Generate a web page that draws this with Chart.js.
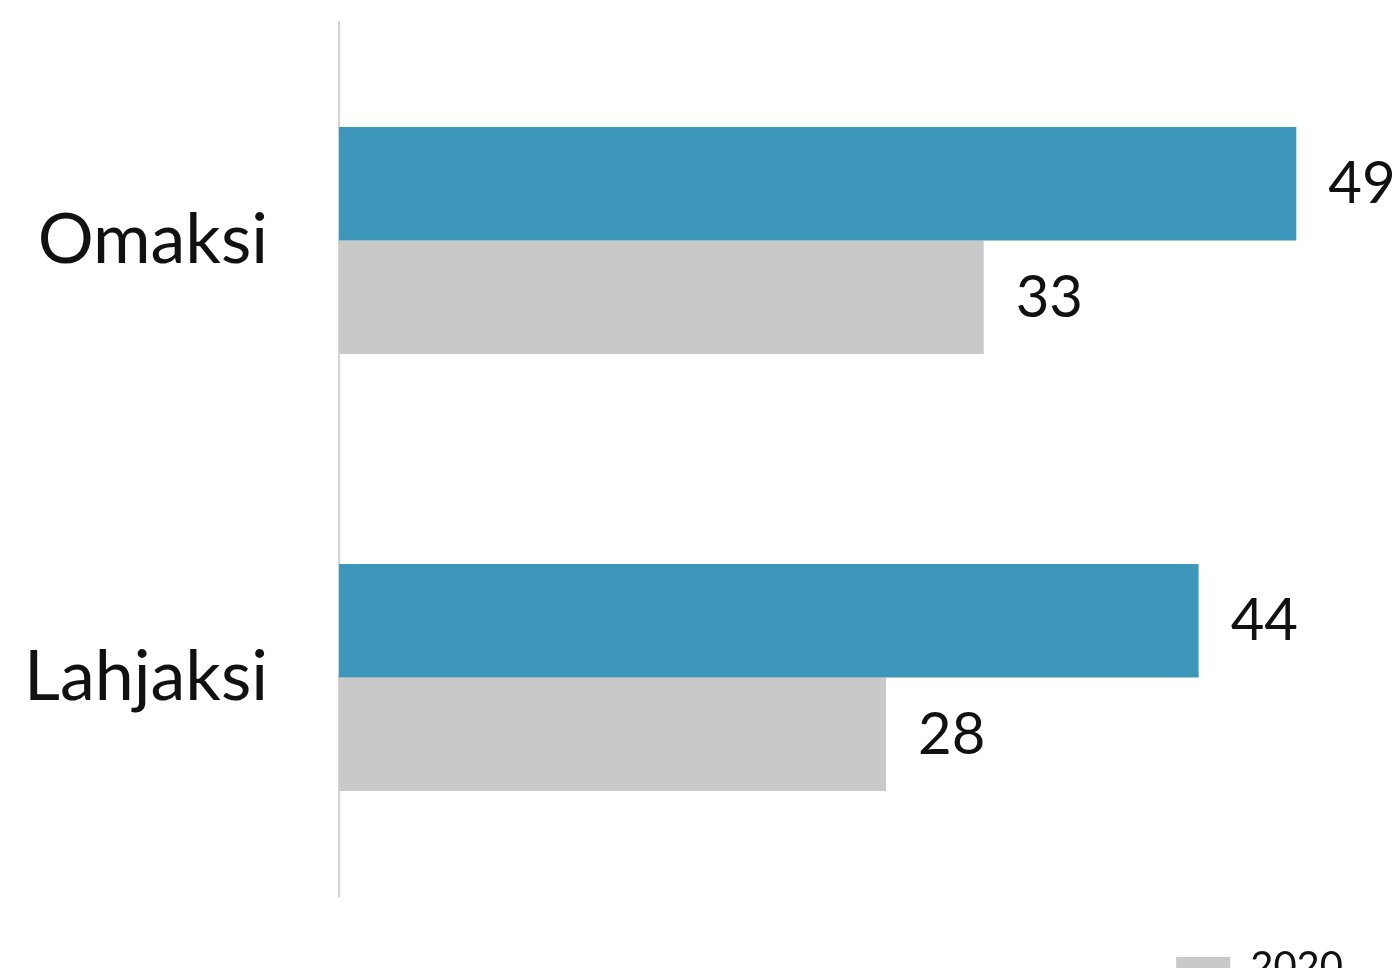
<!DOCTYPE html>
<html>
<head>
<meta charset="utf-8">
<script src="https://cdn.jsdelivr.net/npm/chart.js@4"></script>
<style>
  html, body { margin: 0; padding: 0; background: #fff; overflow: hidden; }
  #wrap { width: 1394px; height: 997px; position: relative; }
</style>
</head>
<body>
<div id="wrap"><canvas id="chart"></canvas></div>
<script>
// Data
const categories = ['Omaksi', 'Lahjaksi'];
const seriesNames = ['2023', '2020'];
const valuesNew = [49, 44];
const valuesOld = [33, 28];

const blue = '#3d97bb';
const grey = '#c9c9c9';
const fontFam = 'Lato, "Open Sans", sans-serif';

// draws the numbers right of each bar
const valueLabels = {
    id: 'valueLabels',
    afterDatasetsDraw(chart) {
        const ctx = chart.ctx;
        ctx.save();
        ctx.font = '58px ' + fontFam;
        ctx.fillStyle = '#111';
        ctx.textAlign = 'left';
        ctx.textBaseline = 'middle';
        chart.data.datasets.forEach((ds, i) => {
            chart.getDatasetMeta(i).data.forEach((bar, j) => {
                ctx.fillText(ds.data[j], bar.x + 32, bar.y + 1);
            });
        });
        ctx.restore();
    }
};

new Chart(document.getElementById('chart'), {
    type: 'bar',
    data: {
        labels: categories,
        datasets: [
            { label: seriesNames[0], data: valuesNew, backgroundColor: blue },
            { label: seriesNames[1], data: valuesOld, backgroundColor: grey }
        ]
    },
    options: {
        indexAxis: 'y',
        responsive: true,
        maintainAspectRatio: false,
        animation: false,
        datasets: { bar: { categoryPercentage: 0.52, barPercentage: 1.0 } },
        layout: { padding: { top: 22, right: 0, left: 0, bottom: 0 } },
        scales: {
            x: { display: false, min: 0, max: 54 },
            y: {
                grid: { display: false, drawTicks: false },
                border: { display: true, color: '#d4d4d4', width: 2 },
                ticks: { color: '#111', padding: 71, font: { family: fontFam, size: 70 } },
                afterFit(scale) {
                    scale.width = 339;
                    // the big tick padding should not push the plot down
                    scale.paddingTop = 0;
                    scale.paddingBottom = 0;
                }
            }
        },
        plugins: {
            tooltip: { enabled: false },
            legend: {
                position: 'bottom',
                align: 'end',
                labels: {
                    // only the 2020 key falls inside the cropped picture
                    filter: item => item.text === '2020',
                    boxWidth: 54,
                    boxHeight: 20,
                    padding: 51,
                    color: '#111',
                    font: { family: fontFam, size: 40 }
                }
            }
        }
    },
    plugins: [valueLabels]
});
</script>
</body>
</html>
